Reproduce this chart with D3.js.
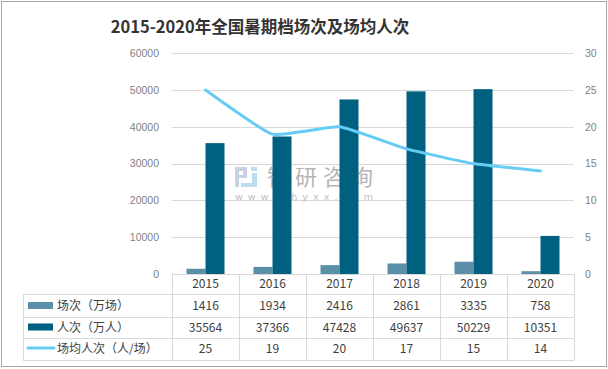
<!DOCTYPE html>
<html><head><meta charset="utf-8">
<script src="https://cdn.jsdelivr.net/npm/d3@7/dist/d3.min.js"></script>
<style>
html,body{margin:0;padding:0;background:#fff;}
svg{display:block;}
</style></head>
<body>
<script>
const years = ["2015","2016","2017","2018","2019","2020"];
const screenings = [1416,1934,2416,2861,3335,758];
const attendance = [35564,37366,47428,49637,50229,10351];
const avgPerScreen = [25,19,20,17,15,14];
const leftTicks = [0,10000,20000,30000,40000,50000,60000];
const rightTicks = [0,5,10,15,20,25,30];
const seriesNames = ["场次（万场）","人次（万人）","场均人次（人/场）"];
const title = "2015-2020年全国暑期档场次及场均人次";

(function(){
const W=608,H=369;
const colLight="#5b8fa7", colDark="#00607f", colLine="#66ccf5";
const grid="#d9d9d9";
const svg=d3.select("body").append("svg").attr("width",W).attr("height",H);

svg.append("rect").attr("x",1.5).attr("y",1.5).attr("width",605).attr("height",365)
  .attr("fill","#fff").attr("stroke","#a6a6a6").attr("stroke-width",1);

svg.append("text").attr("x",260).attr("y",33).attr("text-anchor","middle")
  .attr("font-family","'Noto Sans CJK SC','Noto Sans',sans-serif").attr("font-weight","bold")
  .attr("font-size",16.5).attr("fill","#333").text(title);

const pl=172,pr=574,pt=53.2,pb=274;
const x=d3.scaleBand().domain(years).range([pl,pr]);
const yL=d3.scaleLinear().domain([0,60000]).range([pb,pt]);
const yR=d3.scaleLinear().domain([0,30]).range([pb,pt]);

svg.append("g").selectAll("line").data(leftTicks.filter(d=>d>0)).join("line")
  .attr("x1",pl).attr("x2",pr).attr("y1",d=>Math.round(yL(d))+0.5).attr("y2",d=>Math.round(yL(d))+0.5)
  .attr("stroke",grid).attr("stroke-width",1);

const axL=d3.axisLeft(yL).tickValues(leftTicks).tickSize(0).tickPadding(13).tickFormat(d3.format("d"));
const gL=svg.append("g").attr("transform",`translate(${pl},0)`).call(axL);
gL.select(".domain").remove();
gL.selectAll("text").attr("font-family","'Liberation Sans',Arial,sans-serif").attr("font-size",10.5).attr("fill","#7f7f7f");

const axR=d3.axisRight(yR).tickValues(rightTicks).tickSize(0).tickPadding(11);
const gR=svg.append("g").attr("transform",`translate(${pr},0)`).call(axR);
gR.select(".domain").remove();
gR.selectAll("text").attr("font-family","'Liberation Sans',Arial,sans-serif").attr("font-size",10.5).attr("fill","#7f7f7f");

// watermark (under bars)
const wm=svg.append("g");
const c1="#c9d2e3", c2="#bcdcf2";
wm.append("rect").attr("x",235).attr("y",167).attr("width",11).attr("height",4).attr("fill",c1);
wm.append("rect").attr("x",235).attr("y",167).attr("width",4).attr("height",20).attr("fill",c1);
wm.append("rect").attr("x",243).attr("y",167).attr("width",4).attr("height",10).attr("fill",c1);
wm.append("rect").attr("x",235).attr("y",175).attr("width",12).attr("height",3).attr("fill",c1);
wm.append("rect").attr("x",251).attr("y",167).attr("width",6).attr("height",4).attr("fill",c2);
wm.append("rect").attr("x",252).attr("y",173).attr("width",5).attr("height",14).attr("fill",c2);
wm.append("rect").attr("x",241).attr("y",183).attr("width",16).attr("height",4).attr("fill",c2);
wm.append("text").attr("x",267).attr("y",185).attr("font-family","'Noto Sans CJK SC',sans-serif")
  .attr("font-size",22).attr("fill","#b4b4b4").attr("textLength",106).text("智研咨询");
wm.append("text").attr("x",235).attr("y",199.5).attr("font-family","'DejaVu Sans',sans-serif")
  .attr("font-size",9.5).attr("fill","#bdbdbd").attr("textLength",138).text("www.chyxx.com");

const bw=19;
svg.append("g").selectAll("rect").data(years).join("rect")
  .attr("x",d=>x(d)+x.bandwidth()/2-bw).attr("width",bw)
  .attr("y",(d,i)=>yL(screenings[i])).attr("height",(d,i)=>pb-yL(screenings[i]))
  .attr("fill",colLight);
svg.append("g").selectAll("rect").data(years).join("rect")
  .attr("x",d=>x(d)+x.bandwidth()/2).attr("width",bw)
  .attr("y",(d,i)=>yL(attendance[i])).attr("height",(d,i)=>pb-yL(attendance[i]))
  .attr("fill",colDark);

const line=d3.line().x(d=>x(d[0])+x.bandwidth()/2).y(d=>yR(d[1])).curve(d3.curveCardinal.tension(0.6));
svg.append("path").datum(years.map((y,i)=>[y,avgPerScreen[i]])).attr("d",line)
  .attr("fill","none").attr("stroke",colLine).attr("stroke-width",3).attr("stroke-linecap","round");

const tl=23, rows=[274,294,316.5,338,360];
const tg=svg.append("g").attr("stroke",grid).attr("stroke-width",1).attr("fill","none");
for(let r=1;r<rows.length;r++){
  tg.append("line").attr("x1",tl).attr("x2",pr).attr("y1",Math.round(rows[r])+0.5).attr("y2",Math.round(rows[r])+0.5);
}
const colEdges=years.map(d=>x(d)).concat([pr]);
colEdges.forEach(cx=>{
  tg.append("line").attr("x1",Math.round(cx)+0.5).attr("x2",Math.round(cx)+0.5).attr("y1",pb).attr("y2",360.5);
});
tg.append("line").attr("x1",tl+0.5).attr("x2",tl+0.5).attr("y1",294.5).attr("y2",360.5);
svg.append("line").attr("x1",pl).attr("x2",pr).attr("y1",pb+0.5).attr("y2",pb+0.5).attr("stroke",grid);

const tf="'Noto Sans CJK SC','Noto Sans',sans-serif";
svg.append("g").selectAll("text").data(years).join("text")
  .attr("x",d=>x(d)+x.bandwidth()/2).attr("y",(rows[0]+rows[1])/2).attr("dy","0.36em")
  .attr("text-anchor","middle").attr("font-family",tf).attr("font-size",12).attr("fill","#404040").text(d=>d);
const tableData=[screenings,attendance,avgPerScreen];
tableData.forEach((arr,r)=>{
  const cy=(rows[r+1]+rows[r+2])/2;
  svg.append("g").selectAll("text").data(arr).join("text")
    .attr("x",(d,i)=>x(years[i])+x.bandwidth()/2).attr("y",cy).attr("dy","0.36em")
    .attr("text-anchor","middle").attr("font-family",tf).attr("font-size",12).attr("fill","#404040").text(d=>d);
  svg.append("text").attr("x",57).attr("y",cy).attr("dy","0.36em")
    .attr("font-family",tf).attr("font-size",12).attr("fill","#404040").text(seriesNames[r]);
});
svg.append("rect").attr("x",28).attr("y",302).attr("width",25).attr("height",7).attr("fill",colLight);
svg.append("rect").attr("x",28).attr("y",323.5).attr("width",25).attr("height",7).attr("fill",colDark);
svg.append("line").attr("x1",28).attr("x2",54).attr("y1",348).attr("y2",348).attr("stroke",colLine).attr("stroke-width",3).attr("stroke-linecap","round");
})();
</script>
</body></html>
